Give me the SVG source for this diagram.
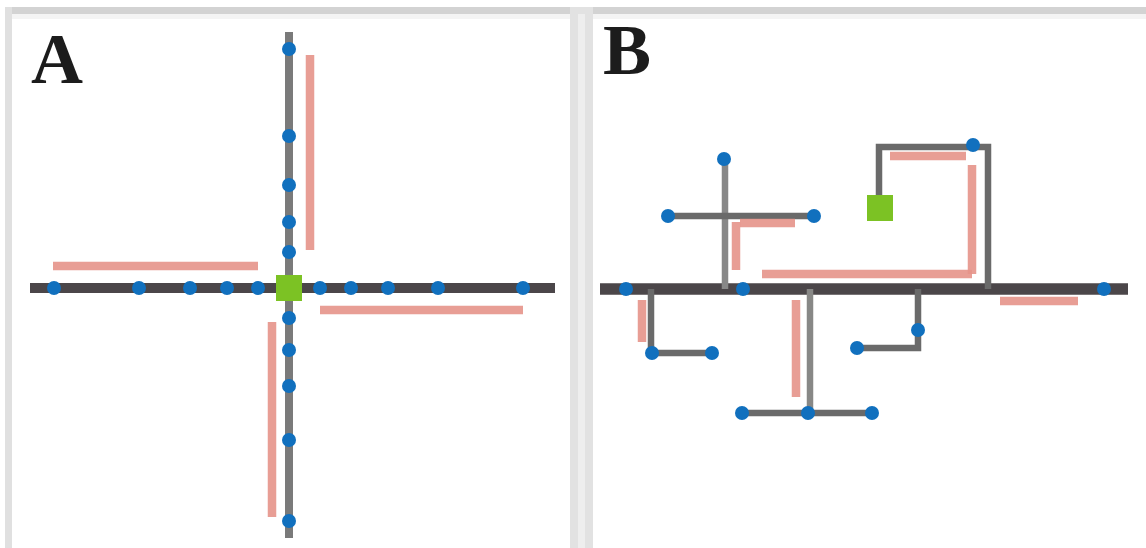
<svg xmlns="http://www.w3.org/2000/svg" width="1146" height="548" viewBox="0 0 1146 548">
<style>
.lbl{font-family:"Liberation Serif","Times New Roman",serif;font-weight:bold;font-size:72px;fill:#1c1c1c}
.main{stroke:#4b4649;stroke-width:10;fill:none;stroke-linecap:butt}
.br{stroke:#6a6a6a;stroke-width:6.5;fill:none}
.vA{stroke:#7a7a7a;stroke-width:8;fill:none}
.red{stroke:#e5938a;stroke-width:8.5;fill:none;opacity:0.9}
.node{fill:#1170be}
.root{fill:#7cc224}
</style>
<rect x="0" y="0" width="1146" height="548" fill="#ffffff"/>
<!-- panel frames -->
<rect x="5" y="7" width="1141" height="7" fill="#d3d3d3"/>
<rect x="12" y="14" width="1134" height="5" fill="#f4f4f4"/>
<rect x="5" y="7" width="7" height="541" fill="#e0e0e0"/>
<rect x="570" y="7" width="23" height="541" fill="#e2e2e2"/>
<rect x="578" y="14" width="7" height="534" fill="#eeeeee"/>
<text class="lbl" x="31" y="83">A</text>
<text class="lbl" x="603" y="74">B</text>

<g id="connectors">
  <!-- Panel A -->
  <line class="vA" x1="289" y1="32" x2="289" y2="538"/>
  <line class="main" x1="30" y1="288" x2="555" y2="288"/>
  <line class="red" x1="310" y1="55" x2="310" y2="250"/>
  <line class="red" x1="53" y1="266" x2="258" y2="266"/>
  <line class="red" x1="320" y1="310" x2="523" y2="310"/>
  <line class="red" x1="272" y1="322" x2="272" y2="517"/>
  <!-- Panel B -->
  <line class="main" x1="600" y1="289" x2="1128" y2="289" style="stroke-width:11.5"/>
  <line class="br" x1="725" y1="289" x2="725" y2="158" style="stroke:#888888"/>
  <line class="br" x1="668" y1="216" x2="814" y2="216"/>
  <polyline class="br" points="879,208 879,147 988,147 988,289"/>
  <polyline class="br" points="651,289 651,353 712,353"/>
  <line class="br" x1="810" y1="289" x2="810" y2="413" style="stroke:#888886"/>
  <line class="br" x1="742" y1="413" x2="872" y2="413"/>
  <polyline class="br" points="918,289 918,348 857,348"/>
  <line class="red" x1="740" y1="223" x2="795" y2="223"/>
  <line class="red" x1="736" y1="222" x2="736" y2="270"/>
  <line class="red" x1="762" y1="274" x2="972" y2="274"/>
  <line class="red" x1="972" y1="274" x2="972" y2="165"/>
  <line class="red" x1="890" y1="156" x2="966" y2="156"/>
  <line class="red" x1="1000" y1="301" x2="1078" y2="301"/>
  <line class="red" x1="642" y1="300" x2="642" y2="342"/>
  <line class="red" x1="796" y1="300" x2="796" y2="397"/>
</g>

<!-- Panel A nodes -->
<g id="A-root"><rect class="root" x="276" y="275" width="26" height="26"/></g>
<g id="A-h1"><circle class="node" cx="54" cy="288" r="7"/></g>
<g id="A-h2"><circle class="node" cx="139" cy="288" r="7"/></g>
<g id="A-h3"><circle class="node" cx="190" cy="288" r="7"/></g>
<g id="A-h4"><circle class="node" cx="227" cy="288" r="7"/></g>
<g id="A-h5"><circle class="node" cx="258" cy="288" r="7"/></g>
<g id="A-h6"><circle class="node" cx="320" cy="288" r="7"/></g>
<g id="A-h7"><circle class="node" cx="351" cy="288" r="7"/></g>
<g id="A-h8"><circle class="node" cx="388" cy="288" r="7"/></g>
<g id="A-h9"><circle class="node" cx="438" cy="288" r="7"/></g>
<g id="A-h10"><circle class="node" cx="523" cy="288" r="7"/></g>
<g id="A-v1"><circle class="node" cx="289" cy="49" r="7"/></g>
<g id="A-v2"><circle class="node" cx="289" cy="136" r="7"/></g>
<g id="A-v3"><circle class="node" cx="289" cy="185" r="7"/></g>
<g id="A-v4"><circle class="node" cx="289" cy="222" r="7"/></g>
<g id="A-v5"><circle class="node" cx="289" cy="252" r="7"/></g>
<g id="A-v6"><circle class="node" cx="289" cy="318" r="7"/></g>
<g id="A-v7"><circle class="node" cx="289" cy="350" r="7"/></g>
<g id="A-v8"><circle class="node" cx="289" cy="386" r="7"/></g>
<g id="A-v9"><circle class="node" cx="289" cy="440" r="7"/></g>
<g id="A-v10"><circle class="node" cx="289" cy="521" r="7"/></g>

<!-- Panel B nodes -->
<g id="B-root"><rect class="root" x="867" y="195" width="26" height="26"/></g>
<g id="B-m1"><circle class="node" cx="626" cy="289" r="7"/></g>
<g id="B-m2"><circle class="node" cx="743" cy="289" r="7"/></g>
<g id="B-m3"><circle class="node" cx="1104" cy="289" r="7"/></g>
<g id="B-t1"><circle class="node" cx="724" cy="159" r="7"/></g>
<g id="B-t2"><circle class="node" cx="668" cy="216" r="7"/></g>
<g id="B-t3"><circle class="node" cx="814" cy="216" r="7"/></g>
<g id="B-r1"><circle class="node" cx="973" cy="145" r="7"/></g>
<g id="B-l1"><circle class="node" cx="652" cy="353" r="7"/></g>
<g id="B-l2"><circle class="node" cx="712" cy="353" r="7"/></g>
<g id="B-c1"><circle class="node" cx="742" cy="413" r="7"/></g>
<g id="B-c2"><circle class="node" cx="808" cy="413" r="7"/></g>
<g id="B-c3"><circle class="node" cx="872" cy="413" r="7"/></g>
<g id="B-d1"><circle class="node" cx="918" cy="330" r="7"/></g>
<g id="B-d2"><circle class="node" cx="857" cy="348" r="7"/></g>
</svg>
